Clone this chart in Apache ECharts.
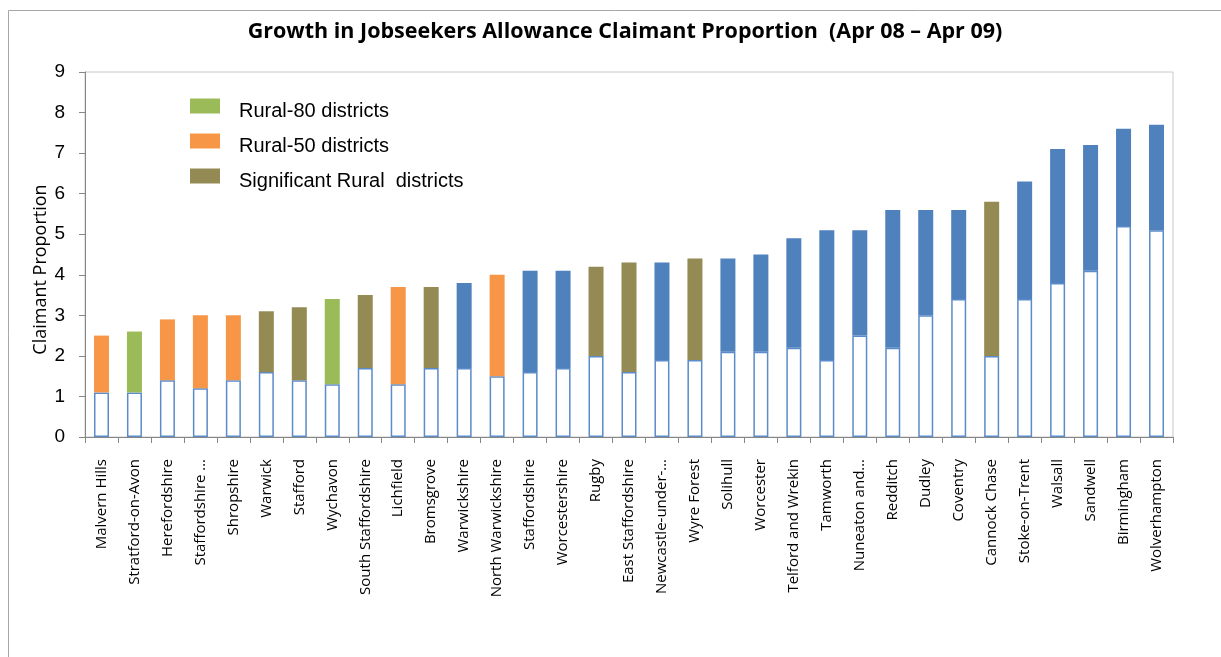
<!DOCTYPE html>
<html>
<head>
<meta charset="utf-8">
<script src="https://cdn.jsdelivr.net/npm/echarts@6/dist/echarts.min.js"></script>
<style>html,body{margin:0;padding:0;background:#fff;}#c{width:1221px;height:657px;}</style>
</head>
<body>
<div id="c"></div>
<script>
// Data
const categories = ["Malvern Hills","Stratford-on-Avon","Herefordshire","Staffordshire …","Shropshire","Warwick","Stafford","Wychavon","South Staffordshire","Lichfield","Bromsgrove","Warwickshire","North Warwickshire","Staffordshire","Worcestershire","Rugby","East Staffordshire","Newcastle-under-…","Wyre Forest","Solihull","Worcester","Telford and Wrekin","Tamworth","Nuneaton and…","Redditch","Dudley","Coventry","Cannock Chase","Stoke-on-Trent","Walsall","Sandwell","Birmingham","Wolverhampton"];
const apr08 = [1.1,1.1,1.4,1.2,1.4,1.6,1.4,1.3,1.7,1.3,1.7,1.7,1.5,1.6,1.7,2.0,1.6,1.9,1.9,2.1,2.1,2.2,1.9,2.5,2.2,3.0,3.4,2.0,3.4,3.8,4.1,5.2,5.1];
const apr09 = [2.5,2.6,2.9,3.0,3.0,3.1,3.2,3.4,3.5,3.7,3.7,3.8,4.0,4.1,4.1,4.2,4.3,4.3,4.4,4.4,4.5,4.9,5.1,5.1,5.6,5.6,5.6,5.8,6.3,7.1,7.2,7.6,7.7];
// district type: U = urban (blue), R80, R50, SR
const districtType = ["R50","R80","R50","R50","R50","SR","SR","R80","SR","R50","SR","U","R50","U","U","SR","SR","U","SR","U","U","U","U","U","U","U","U","SR","U","U","U","U","U"];
const yTicks = [0,1,2,3,4,5,6,7,8,9];

const typeSeries = [
  {key:"U", name:"Other districts", color:"#4F81BD"},
  {key:"R80", name:"Rural-80 districts", color:"#9BBB59"},
  {key:"R50", name:"Rural-50 districts", color:"#F79646"},
  {key:"SR", name:"Significant Rural  districts", color:"#948A54"}
];

const chart = echarts.init(document.getElementById('c'), null, {renderer:'canvas'});

const series = [{
  name: "Apr 08",
  type: "bar",
  stack: "s",
  barWidth: 15,
  data: apr08,
  itemStyle: {color: "#ffffff", borderColor: "#5B8BC9", borderWidth: 1.5},
  emphasis: {disabled: true},
  z: 2
}];
typeSeries.forEach(t => {
  series.push({
    name: t.name,
    type: "bar",
    stack: "s",
    barWidth: 15,
    data: apr09.map((v,i) => districtType[i] === t.key ? +(v - apr08[i]).toFixed(2) : '-'),
    itemStyle: {color: t.color},
    emphasis: {disabled: true}
  });
});

chart.setOption({
  animation: false,
  backgroundColor: "#ffffff",
  title: {
    text: "Growth in Jobseekers Allowance Claimant Proportion  (Apr 08 \u2013 Apr 09)",
    left: 620, textAlign: "center", top: 16,
    textStyle: {fontFamily: "Open Sans", fontWeight: "bold", fontSize: 21.5, color: "#000"}
  },
  legend: {
    data: ["Rural-80 districts","Rural-50 districts","Significant Rural  districts"],
    orient: "vertical",
    left: 185, top: 91,
    itemWidth: 30, itemHeight: 15, itemGap: 10,
    icon: "rect",
    selectedMode: false,
    formatter: name => '{s|}{t|' + name + '}',
    textStyle: {
      fontFamily: "Liberation Sans", fontSize: 20, color: "#000",
      rich: {
        s: {width: 14, lineHeight: 30, fontSize: 20},
        t: {fontFamily: "Liberation Sans", fontSize: 20, color: "#000", lineHeight: 20, verticalAlign: "bottom"}
      }
    }
  },
  graphic: [{
    type: "rect", silent: true, z: -10,
    shape: {x: 8.5, y: 10.5, width: 1300, height: 800},
    style: {fill: null, stroke: "#a6a6a6", lineWidth: 1}
  }],
  grid: {
    left: 85, right: 48, top: 72, bottom: 220,
    show: true, borderColor: "#c8c8c8", borderWidth: 1, backgroundColor: "transparent"
  },
  xAxis: {
    type: "category",
    data: categories,
    axisLine: {lineStyle: {color: "#868686", width: 1}},
    axisTick: {show: true, length: 6, lineStyle: {color: "#868686"}},
    axisLabel: {interval: 0, rotate: 90, margin: 22, fontFamily: "Open Sans", fontSize: 15, color: "#000"}
  },
  yAxis: {
    type: "value",
    min: 0, max: 9, interval: 1,
    name: "Claimant Proportion",
    nameLocation: "middle",
    nameGap: 35,
    nameMoveOverlap: false,
    nameTextStyle: {fontFamily: "Open Sans", fontSize: 18, color: "#000", padding: [0, 30, 0, 0]},
    axisLine: {show: true, lineStyle: {color: "#868686", width: 1}},
    axisTick: {show: true, length: 6, lineStyle: {color: "#868686"}},
    splitLine: {show: false},
    axisLabel: {margin: 20, fontFamily: "Liberation Sans", fontSize: 19, color: "#000",
      formatter: v => yTicks.includes(v) ? String(v) : ''}
  },
  series: series
});
</script>
</body>
</html>
